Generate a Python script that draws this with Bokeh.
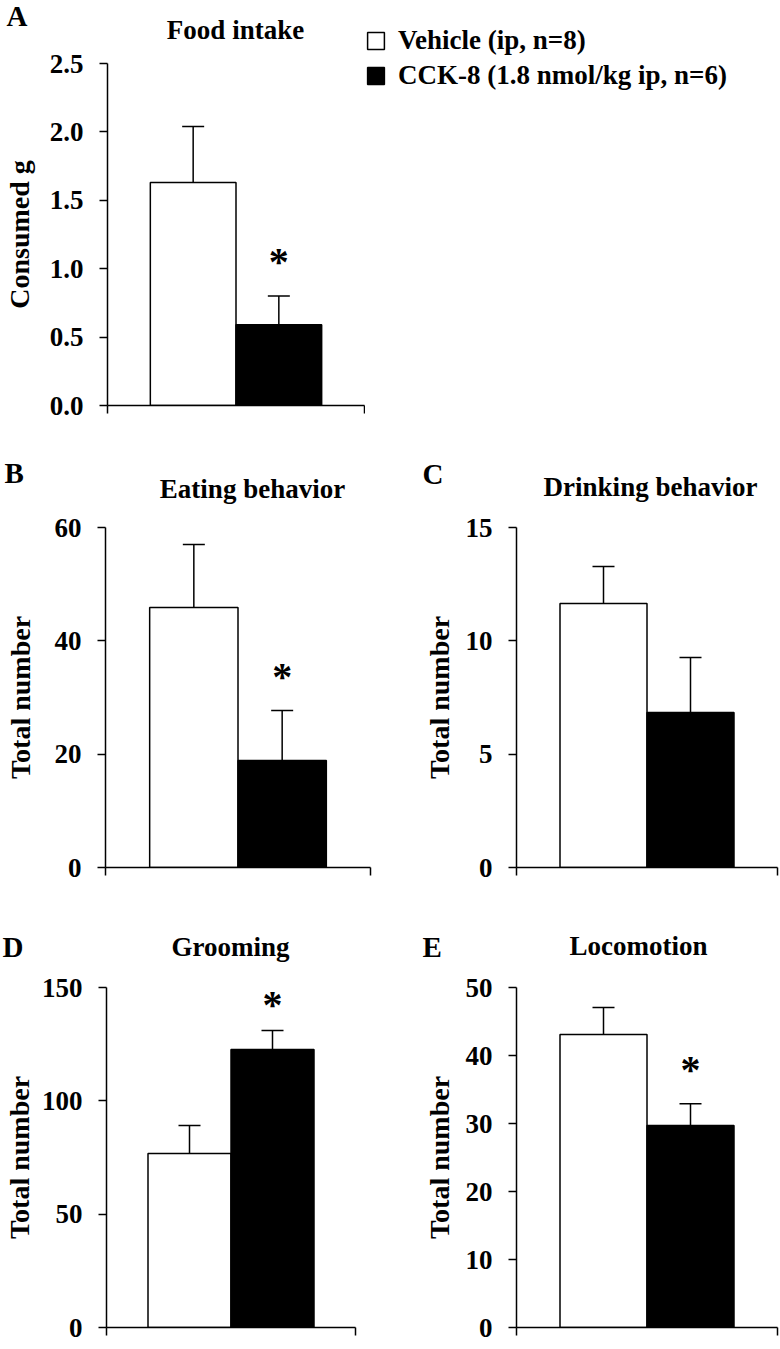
from bokeh.plotting import figure
from bokeh.models import (FixedTicker, NumeralTickFormatter, Whisker, TeeHead, ColumnDataSource,
                          Label, Legend, LegendItem, Range1d)
from bokeh.layouts import column, row
from bokeh.embed import file_html
from bokeh.resources import INLINE
from bokeh.core.properties import value

# ---------------- data ----------------
groups = ["Vehicle (ip, n=8)", "CCK-8 (1.8 nmol/kg ip, n=6)"]
panel_letters = ["A", "B", "C", "D", "E"]
titles = ["Food intake", "Eating behavior", "Drinking behavior", "Grooming", "Locomotion"]
y_labels = ["Consumed g", "Total number", "Total number", "Total number", "Total number"]
vehicle_mean = [1.63, 45.9, 11.65, 76.8, 43.1]
vehicle_sem = [0.41, 11.1, 1.63, 12.3, 3.96]
cck_mean = [0.59, 18.9, 6.84, 122.6, 29.7]
cck_sem = [0.21, 8.8, 2.42, 8.4, 3.2]
significant = [True, True, False, True, True]
y_max = [2.5, 60, 15, 150, 50]
y_step = [0.5, 20, 5, 50, 10]
y_format = ["0.0", "0", "0", "0", "0"]

FONT = "Liberation Serif"

# plot figure: (width, height, left border, frame width, top border, frame height, axis label standoff)
plot_spec = [
    (365, 393, 105, 259, 16, 342, 12),
    (420, 389, 105, 265, 16, 340, 16),
    (360, 389, 94, 263, 16, 340, 8),
    (420, 377, 103, 252, 16, 340, 4),
    (360, 377, 94, 263, 16, 340, 8),
]
# header figure: (height, letter x, letter y, title center x, title y)  [px, from bottom-left]
head_spec = [
    (47, 6, 32, 235, 18),
    (71, 4, 39, 252, 23),
    (71, 2, 38, 230, 25),
    (71, 2, 25, 230, 25),
    (71, 2, 25, 218, 26),
]


def bare_figure(w, h):
    f = figure(width=w, height=h, x_range=Range1d(0, w), y_range=Range1d(0, h),
               output_backend="svg", toolbar_location=None,
               x_axis_type=None, y_axis_type=None, frame_align=False,
               min_border_left=0, min_border_right=0, min_border_top=0, min_border_bottom=0)
    f.outline_line_color = None
    f.xgrid.grid_line_color = None
    f.ygrid.grid_line_color = None
    return f


def make_header(i):
    w = plot_spec[i][0]
    hh, lx, ly, tx, ty = head_spec[i]
    h = bare_figure(w, hh)
    h.add_layout(Label(x=lx, y=ly, x_units="screen", y_units="screen",
                       text=panel_letters[i], text_font=FONT, text_font_style="bold",
                       text_font_size="29px", text_color="black",
                       text_align="left", text_baseline="alphabetic"))
    h.add_layout(Label(x=tx, y=ty, x_units="screen", y_units="screen",
                       text=titles[i], text_font=FONT, text_font_style="bold",
                       text_font_size="27px", text_color="black",
                       text_align="center", text_baseline="alphabetic"))
    return h


def make_panel(i):
    (w, h, bl, fw, bt, fh, ax_stand) = plot_spec[i]
    p = figure(width=w, height=h, x_range=Range1d(0, 3), y_range=Range1d(0, y_max[i]),
               output_backend="svg", toolbar_location=None, frame_align=False,
               min_border_left=bl, min_border_right=w - bl - fw,
               min_border_top=bt, min_border_bottom=h - bt - fh)
    p.outline_line_color = None
    p.xgrid.grid_line_color = None
    p.ygrid.grid_line_color = None
    p.background_fill_color = "white"

    src = ColumnDataSource(dict(
        x=[1, 2],
        top=[vehicle_mean[i], cck_mean[i]],
        upper=[vehicle_mean[i] + vehicle_sem[i], cck_mean[i] + cck_sem[i]],
        color=["white", "black"],
    ))
    p.vbar(x="x", top="top", width=1, fill_color="color", line_color="black",
           line_width=1.5, source=src)
    p.add_layout(Whisker(base="x", upper="upper", lower="top", source=src, dimension="height",
                         line_color="black", line_width=1.5,
                         upper_head=TeeHead(size=22, line_width=1.5, line_color="black"),
                         lower_head=None))

    if significant[i]:
        star_y = min(cck_mean[i] + cck_sem[i] + 0.1 * y_max[i], 0.95 * y_max[i])
        p.text(x=[2], y=[star_y], text=["*"],
               text_font=value(FONT), text_font_style="bold", text_font_size="40px",
               text_align="center", text_baseline="middle", text_color="black")

    yt = []
    v = 0.0
    while v <= y_max[i] + 1e-9:
        yt.append(round(v, 3))
        v += y_step[i]
    p.yaxis.ticker = FixedTicker(ticks=yt)
    p.yaxis.formatter = NumeralTickFormatter(format=y_format[i])
    p.yaxis.axis_label = y_labels[i]
    p.yaxis.axis_label_text_font = FONT
    p.yaxis.axis_label_text_font_style = "bold"
    p.yaxis.axis_label_text_font_size = "28px"
    p.yaxis.axis_label_text_color = "black"
    p.yaxis.axis_label_standoff = ax_stand
    p.yaxis.major_label_text_font = FONT
    p.yaxis.major_label_text_font_style = "bold"
    p.yaxis.major_label_text_font_size = "27px"
    p.yaxis.major_label_text_color = "black"
    p.yaxis.major_label_standoff = 16

    p.xaxis.ticker = FixedTicker(ticks=[0, 3])
    p.xaxis.major_label_text_color = None
    p.xaxis.major_label_standoff = 0

    for ax in (p.xaxis, p.yaxis):
        ax.axis_line_color = "black"
        ax.axis_line_width = 1.5
        ax.major_tick_line_color = "black"
        ax.major_tick_line_width = 1.5
        ax.major_tick_out = 8
        ax.major_tick_in = 0
        ax.minor_tick_line_color = None
    return p


# legend figure (right of panel A); its two swatch renderers sit outside its visible range
lf = bare_figure(415, 440)
swatch = ColumnDataSource(dict(left=[-20, -20], right=[-10, -10], top=[-10, -10],
                               bottom=[-20, -20], color=["white", "black"]))
r_sw = lf.quad(left="left", right="right", top="top", bottom="bottom", fill_color="color",
               line_color="black", line_width=1.5, source=swatch)
legend = Legend(items=[LegendItem(label=groups[0], renderers=[r_sw], index=0),
                       LegendItem(label=groups[1], renderers=[r_sw], index=1)],
                location=(0, 349), orientation="vertical",
                glyph_width=21, glyph_height=21, label_standoff=12, spacing=4,
                padding=0, margin=0, border_line_color=None, background_fill_alpha=0,
                label_text_font=FONT, label_text_font_style="bold",
                label_text_font_size="27px", label_text_color="black")
lf.add_layout(legend)

cells = [column(make_header(i), make_panel(i)) for i in range(5)]
layout = column(row(cells[0], lf), row(cells[1], cells[2]), row(cells[3], cells[4]))
open("out.html", "w").write(file_html(layout, INLINE))
